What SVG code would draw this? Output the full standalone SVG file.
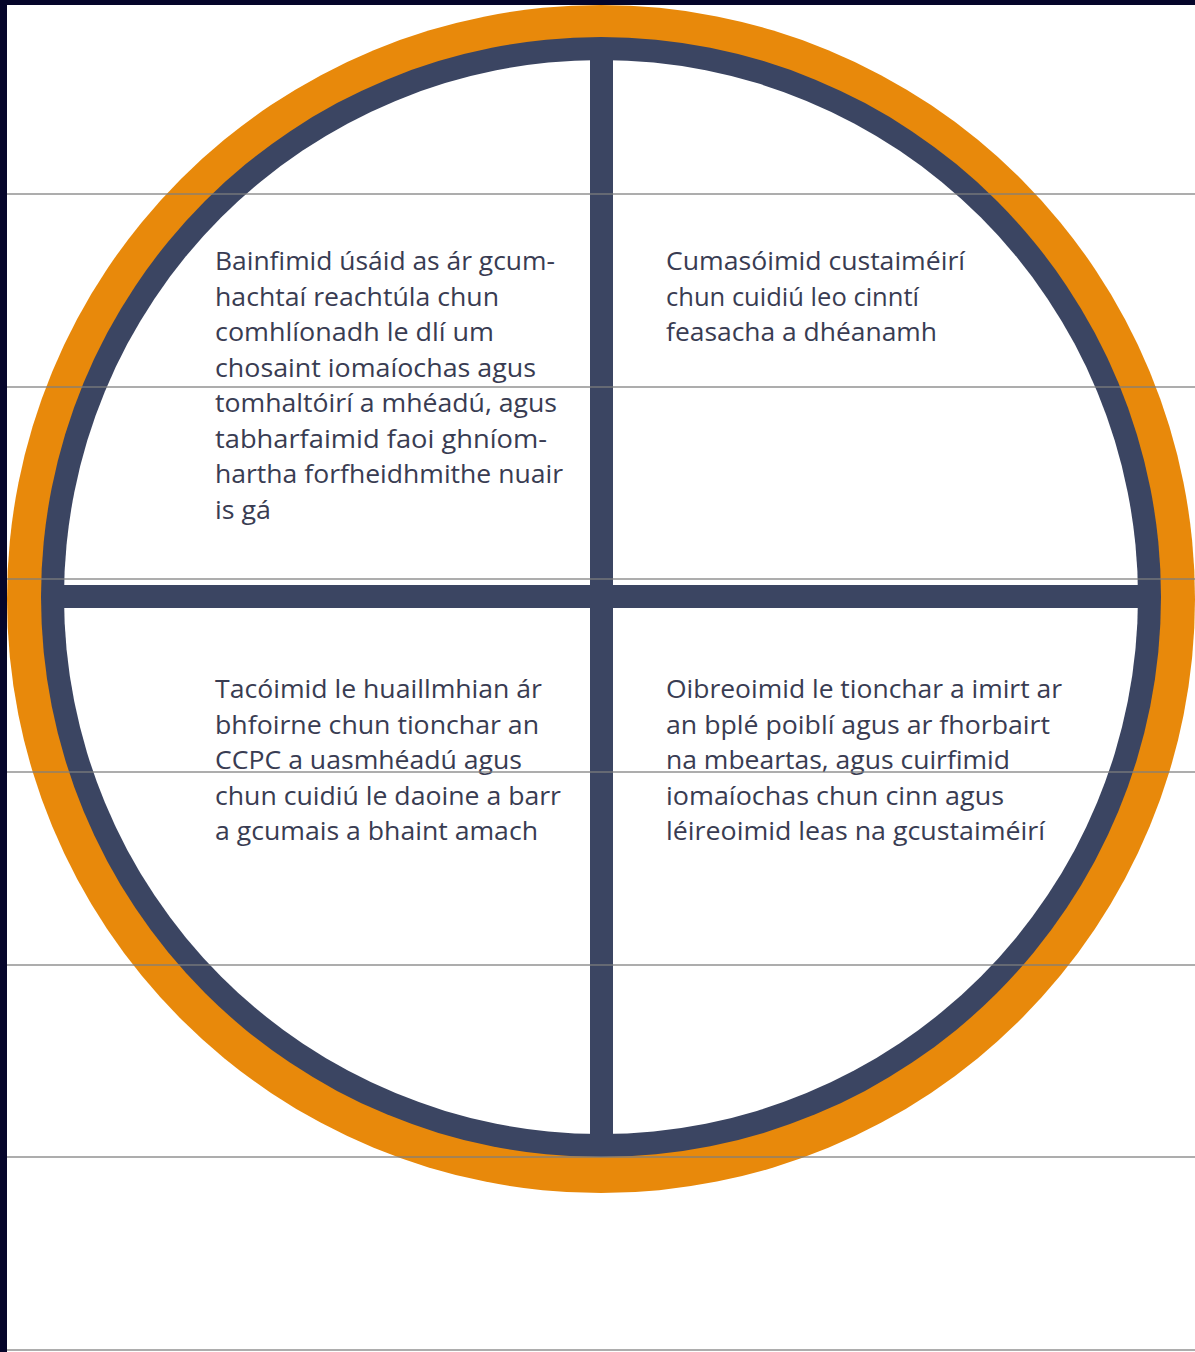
<svg xmlns="http://www.w3.org/2000/svg" width="1195" height="1352" viewBox="0 0 1195 1352">
<style>
.t{font-family:"Open Sans","Liberation Sans",sans-serif;font-size:26px;font-weight:500;fill:#393c52;}
.rule{stroke:#7f7f7f;stroke-width:1.5;opacity:0.85;}
.navy{fill:#3b4562;}
</style>
<rect x="0" y="0" width="1195" height="1352" fill="#ffffff"/>
<g id="wheel">
<circle cx="601" cy="599" r="594" fill="#e8890b"/>
<circle cx="601" cy="597" r="560" class="navy"/>
<circle cx="601" cy="597" r="537" fill="#ffffff"/>
<rect x="590" y="50" width="23" height="1095" class="navy"/>
<rect x="50" y="585" width="1102" height="23" class="navy"/>
</g>
<g id="q1">
<text class="t" x="215" y="270" textLength="340" lengthAdjust="spacingAndGlyphs">Bainfimid úsáid as ár gcum-</text>
<text class="t" x="215" y="305.5" textLength="284" lengthAdjust="spacingAndGlyphs">hachtaí reachtúla chun</text>
<text class="t" x="215" y="341" textLength="279" lengthAdjust="spacingAndGlyphs">comhlíonadh le dlí um</text>
<text class="t" x="215" y="376.5" textLength="321" lengthAdjust="spacingAndGlyphs">chosaint iomaíochas agus</text>
<text class="t" x="215" y="412" textLength="342" lengthAdjust="spacingAndGlyphs">tomhaltóirí a mhéadú, agus</text>
<text class="t" x="215" y="447.5" textLength="332" lengthAdjust="spacingAndGlyphs">tabharfaimid faoi ghníom-</text>
<text class="t" x="215" y="483" textLength="348" lengthAdjust="spacingAndGlyphs">hartha forfheidhmithe nuair</text>
<text class="t" x="215" y="518.5" textLength="56" lengthAdjust="spacingAndGlyphs">is gá</text>
</g>
<g id="q2">
<text class="t" x="666" y="270" textLength="299" lengthAdjust="spacingAndGlyphs">Cumasóimid custaiméirí</text>
<text class="t" x="666" y="305.5" textLength="253" lengthAdjust="spacingAndGlyphs">chun cuidiú leo cinntí</text>
<text class="t" x="666" y="341" textLength="271" lengthAdjust="spacingAndGlyphs">feasacha a dhéanamh</text>
</g>
<g id="q3">
<text class="t" x="215" y="698" textLength="327" lengthAdjust="spacingAndGlyphs">Tacóimid le huaillmhian ár</text>
<text class="t" x="215" y="733.5" textLength="324" lengthAdjust="spacingAndGlyphs">bhfoirne chun tionchar an</text>
<text class="t" x="215" y="769" textLength="307" lengthAdjust="spacingAndGlyphs">CCPC a uasmhéadú agus</text>
<text class="t" x="215" y="804.5" textLength="346" lengthAdjust="spacingAndGlyphs">chun cuidiú le daoine a barr</text>
<text class="t" x="215" y="840" textLength="323" lengthAdjust="spacingAndGlyphs">a gcumais a bhaint amach</text>
</g>
<g id="q4">
<text class="t" x="666" y="698" textLength="396" lengthAdjust="spacingAndGlyphs">Oibreoimid le tionchar a imirt ar</text>
<text class="t" x="666" y="733.5" textLength="384" lengthAdjust="spacingAndGlyphs">an bplé poiblí agus ar fhorbairt</text>
<text class="t" x="666" y="769" textLength="344" lengthAdjust="spacingAndGlyphs">na mbeartas, agus cuirfimid</text>
<text class="t" x="666" y="804.5" textLength="338" lengthAdjust="spacingAndGlyphs">iomaíochas chun cinn agus</text>
<text class="t" x="666" y="840" textLength="379" lengthAdjust="spacingAndGlyphs">léireoimid leas na gcustaiméirí</text>
</g>
<g id="connectors">
<line class="rule" x1="7" y1="194" x2="1195" y2="194"/>
<line class="rule" x1="7" y1="387" x2="1195" y2="387"/>
<line class="rule" x1="7" y1="579" x2="1195" y2="579"/>
<line class="rule" x1="7" y1="772" x2="1195" y2="772"/>
<line class="rule" x1="7" y1="965" x2="1195" y2="965"/>
<line class="rule" x1="7" y1="1157" x2="1195" y2="1157"/>
<line class="rule" x1="7" y1="1350" x2="1195" y2="1350"/>
</g>
<g id="frame">
<rect x="0" y="0" width="1195" height="5" fill="#05052a"/>
<rect x="0" y="0" width="7" height="1352" fill="#05052a"/>
</g>
</svg>
